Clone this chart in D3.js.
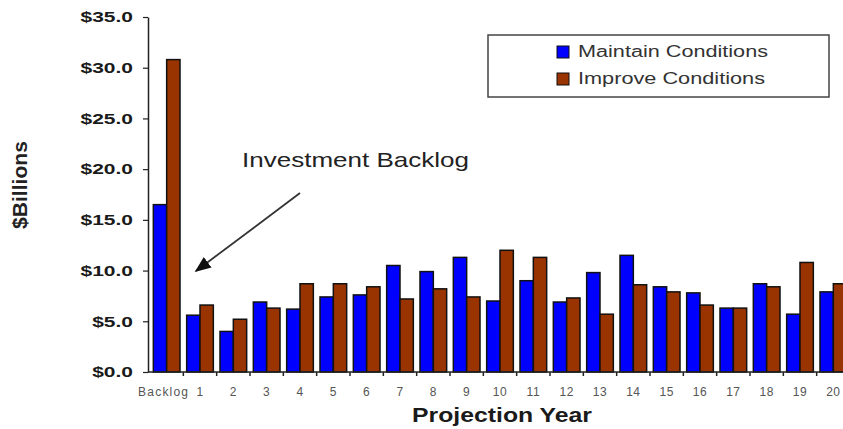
<!DOCTYPE html>
<html>
<head>
<meta charset="utf-8">
<script src="https://cdn.jsdelivr.net/npm/d3@7"></script>
<style>
  body { margin: 0; background: #fff; }
  svg { display: block; font-family: Arial, "Liberation Sans", sans-serif; }
</style>
</head>
<body>
<div id="canvas"></div>
<script>
// categories and series values ($ billions)
var categories = ["Backlog", "1", "2", "3", "4", "5", "6", "7", "8", "9", "10",
  "11", "12", "13", "14", "15", "16", "17", "18", "19", "20"];
var maintainValues = [16.5, 5.6, 4.0, 6.9, 6.2, 7.4, 7.6, 10.5, 9.9, 11.3, 7.0,
  9.0, 6.9, 9.8, 11.5, 8.4, 7.8, 6.3, 8.7, 5.7, 7.9];
var improveValues = [30.8, 6.6, 5.2, 6.3, 8.7, 8.7, 8.4, 7.2, 8.2, 7.4, 12.0,
  11.3, 7.3, 5.7, 8.6, 7.9, 6.6, 6.3, 8.4, 10.8, 8.7];
var seriesNames = ["Maintain Conditions", "Improve Conditions"];
var yTicks = [0, 5, 10, 15, 20, 25, 30, 35];

var colors = { "Maintain Conditions": "#0000ff", "Improve Conditions": "#993300" };
var stretch = 1.4; // the source picture is stretched sideways

var width = 843, height = 429;

var svg = d3.select("#canvas").append("svg")
  .attr("width", width)
  .attr("height", height);

// scales
var x0 = d3.scaleBand()
  .domain(categories)
  .range([150, 850])
  .padding(0);

var x1 = d3.scaleBand()
  .domain(seriesNames)
  .range([x0.bandwidth() * 0.1, x0.bandwidth() * 0.9]);

var y = d3.scaleLinear()
  .domain([0, 35])
  .range([372, 17]);

var rows = categories.map(function(c, i) {
  return { cat: c, values: [
    { name: seriesNames[0], value: maintainValues[i] },
    { name: seriesNames[1], value: improveValues[i] }
  ] };
});

// bars
var groups = svg.append("g").selectAll("g")
  .data(rows)
  .enter().append("g")
  .attr("transform", function(d) { return "translate(" + x0(d.cat) + ",0)"; });

groups.selectAll("rect")
  .data(function(d) { return d.values; })
  .enter().append("rect")
  .attr("x", function(d) { return x1(d.name); })
  .attr("width", x1.bandwidth())
  .attr("y", function(d) { return y(d.value); })
  .attr("height", function(d) { return y(0) - y(d.value); })
  .attr("fill", function(d) { return colors[d.name]; })
  .attr("stroke", "#111")
  .attr("stroke-width", 1.5);

// y axis
var yAxis = svg.append("g")
  .attr("transform", "translate(148,0)")
  .call(d3.axisLeft(y).tickValues(yTicks).tickSize(5).tickSizeOuter(0)
    .tickFormat(function(d) { return "$" + d.toFixed(1); }));
yAxis.select(".domain").attr("stroke", "#222").attr("stroke-width", 1.5);
yAxis.selectAll(".tick line").attr("stroke", "#222").attr("stroke-width", 1.2);
yAxis.selectAll(".tick text")
  .attr("x", -15 / stretch)
  .attr("transform", "scale(" + stretch + ",1)")
  .attr("fill", "#1a1a1a")
  .style("font-size", "15px")
  .style("font-weight", "bold");

// x axis: line, boundary ticks and labels
var xAxis = svg.append("g")
  .attr("transform", "translate(0,372)");
xAxis.append("line")
  .attr("x1", 148).attr("x2", width)
  .attr("stroke", "#222").attr("stroke-width", 1.5);
xAxis.selectAll(".bound")
  .data(categories.slice(1))
  .enter().append("line")
  .attr("class", "bound")
  .attr("x1", function(d) { return x0(d); })
  .attr("x2", function(d) { return x0(d); })
  .attr("y1", 0).attr("y2", 4)
  .attr("stroke", "#222").attr("stroke-width", 1.5);
xAxis.selectAll(".xlab")
  .data(categories)
  .enter().append("text")
  .attr("class", "xlab")
  .attr("x", function(d) { return x0(d) + x0.bandwidth() / 2 - (d === "Backlog" ? 3 : 0); })
  .attr("y", 24)
  .attr("text-anchor", "middle")
  .attr("fill", "#555")
  .style("font-size", "12px")
  .style("letter-spacing", function(d) { return d === "Backlog" ? "1.2px" : "0.5px"; })
  .text(function(d) { return d; });

// axis titles
svg.append("text")
  .attr("x", 502).attr("y", 422)
  .attr("text-anchor", "middle")
  .attr("fill", "#1a1a1a")
  .style("font-size", "20px")
  .style("font-weight", "bold")
  .attr("textLength", 180)
  .attr("lengthAdjust", "spacingAndGlyphs")
  .text("Projection Year");

svg.append("text")
  .attr("transform", "translate(27,185) scale(1.3,1) rotate(-90)")
  .attr("text-anchor", "middle")
  .attr("fill", "#222")
  .style("font-size", "15px")
  .style("font-weight", "bold")
  .attr("textLength", 88)
  .attr("lengthAdjust", "spacingAndGlyphs")
  .text("$Billions");

// legend
var legend = svg.append("g");
legend.append("rect")
  .attr("x", 488).attr("y", 35)
  .attr("width", 341).attr("height", 62)
  .attr("fill", "#fff")
  .attr("stroke", "#444")
  .attr("stroke-width", 1.5);
var items = legend.selectAll(".item")
  .data(seriesNames)
  .enter().append("g")
  .attr("class", "item")
  .attr("transform", function(d, i) { return "translate(557," + (46 + i * 27) + ")"; });
items.append("rect")
  .attr("width", 12).attr("height", 12)
  .attr("fill", function(d) { return colors[d]; })
  .attr("stroke", "#111")
  .attr("stroke-width", 1);
items.append("text")
  .attr("x", 21).attr("y", 11)
  .attr("fill", "#333")
  .style("font-size", "16px")
  .attr("textLength", function(d, i) { return i === 0 ? 190 : 187; })
  .attr("lengthAdjust", "spacingAndGlyphs")
  .text(function(d) { return d; });

// annotation with arrow
svg.append("defs").append("marker")
  .attr("id", "arrow")
  .attr("viewBox", "0 0 10 10")
  .attr("refX", 9).attr("refY", 5)
  .attr("markerWidth", 9).attr("markerHeight", 9)
  .attr("markerUnits", "strokeWidth")
  .attr("orient", "auto")
  .append("path")
  .attr("d", "M0,1 L10,5 L0,9 z")
  .attr("fill", "#111");

svg.append("line")
  .attr("x1", 300).attr("y1", 193)
  .attr("x2", 196).attr("y2", 271)
  .attr("stroke", "#333")
  .attr("stroke-width", 1.8)
  .attr("marker-end", "url(#arrow)");

svg.append("text")
  .attr("x", 242).attr("y", 167)
  .attr("fill", "#222")
  .style("font-size", "21px")
  .attr("textLength", 227)
  .attr("lengthAdjust", "spacingAndGlyphs")
  .text("Investment Backlog");
</script>
</body>
</html>
